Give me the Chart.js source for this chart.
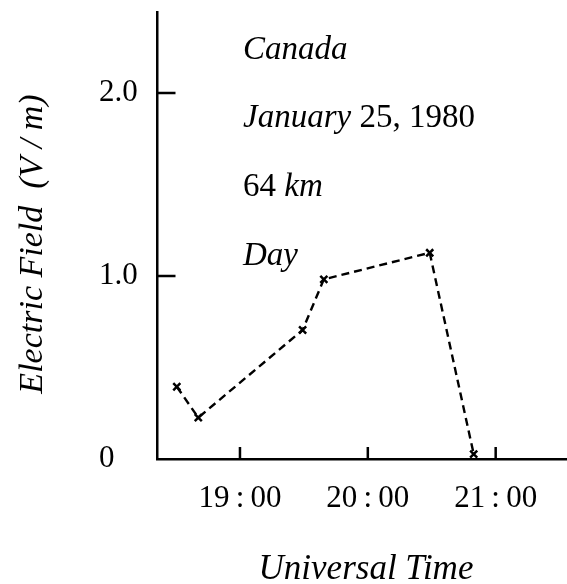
<!DOCTYPE html>
<html>
<head>
<meta charset="utf-8">
<script src="https://cdn.jsdelivr.net/npm/chart.js@4.4.1/dist/chart.umd.min.js"></script>
<style>
  body { margin: 0; background: #fff; }
</style>
</head>
<body>
<canvas id="chart" width="567" height="584"></canvas>
<script>
const times = [18.506, 18.674, 19.49, 19.656, 20.484, 20.828];
const field = [0.395, 0.226, 0.705, 0.982, 1.127, 0.027];
const xTicks = [19, 20, 21];
const xTickLabels = ['19\u2009:\u200900', '20\u2009:\u200900', '21\u2009:\u200900'];
const yTicks = [0, 1, 2];
const yTickLabels = ['0', '1.0', '2.0'];

const serif = "'Liberation Serif', 'Times New Roman', serif";

// inner tick marks + titles and the annotation text
const extras = {
  id: 'extras',
  afterDraw(chart) {
    const c = chart.ctx;
    const area = chart.chartArea;
    const xs = chart.scales.x, ys = chart.scales.y;
    c.save();
    c.strokeStyle = '#000';
    c.lineWidth = 2.5;
    c.beginPath();
    xTicks.forEach(v => {
      const px = xs.getPixelForValue(v);
      c.moveTo(px, area.bottom);
      c.lineTo(px, area.bottom - 12);
    });
    yTicks.slice(1).forEach(v => {
      const py = ys.getPixelForValue(v);
      c.moveTo(area.left, py);
      c.lineTo(area.left + 18, py);
    });
    c.stroke();

    c.fillStyle = '#000';
    c.textBaseline = 'alphabetic';

    // y title
    c.save();
    c.translate(42, 244);
    c.rotate(-Math.PI / 2);
    c.textAlign = 'center';
    c.font = 'italic 34px ' + serif;
    c.fillText('Electric Field\u2002(V / m)', 0, 0);
    c.restore();

    // x title
    c.textAlign = 'center';
    c.font = 'italic 35px ' + serif;
    c.fillText('Universal Time', 366, 579);

    // annotations
    c.textAlign = 'left';
    const x0 = 243;
    c.font = 'italic 33px ' + serif;
    c.fillText('Canada', x0, 59);
    c.fillText('January', x0, 127);
    let w = c.measureText('January ').width;
    c.font = '33px ' + serif;
    c.fillText('25, 1980', x0 + w, 127);
    c.fillText('64 ', x0, 196);
    w = c.measureText('64 ').width;
    c.font = 'italic 33px ' + serif;
    c.fillText('km', x0 + w, 196);
    c.fillText('Day', x0, 265);
    c.restore();
  }
};

new Chart(document.getElementById('chart'), {
  type: 'line',
  data: {
    datasets: [{
      data: times.map((t, i) => ({ x: t, y: field[i] })),
      borderColor: '#000',
      borderWidth: 2.4,
      borderDash: [8, 5],
      tension: 0,
      pointStyle: 'crossRot',
      pointRadius: 5,
      pointBorderWidth: 2.5,
      pointBorderColor: '#000'
    }]
  },
  options: {
    responsive: false,
    animation: false,
    devicePixelRatio: 1,
    layout: { autoPadding: false, padding: { left: 99, top: 12, right: 1, bottom: 0 } },
    plugins: {
      legend: { display: false },
      tooltip: { enabled: false }
    },
    scales: {
      x: {
        type: 'linear',
        min: 18.355,
        max: 21.55,
        afterBuildTicks: s => { s.ticks = xTicks.map(v => ({ value: v })); },
        afterFit: s => { s.height = 125; s.paddingLeft = 0; s.paddingRight = 0; },
        ticks: {
          padding: 21,
          color: '#000',
          font: { size: 31, family: serif },
          callback: v => xTickLabels[xTicks.indexOf(v)]
        },
        grid: { drawOnChartArea: false, drawTicks: false },
        border: { color: '#000', width: 2.5 }
      },
      y: {
        min: 0,
        max: 2.443,
        afterBuildTicks: s => { s.ticks = yTicks.map(v => ({ value: v })); },
        afterFit: s => { s.width = 58.5; s.paddingTop = 0; s.paddingBottom = 0; },
        ticks: {
          crossAlign: 'far',
          color: '#000',
          font: { size: 31, family: serif },
          callback: v => yTickLabels[yTicks.indexOf(v)]
        },
        grid: { drawOnChartArea: false, drawTicks: false },
        border: { color: '#000', width: 2.5 }
      }
    }
  },
  plugins: [extras]
});
</script>
</body>
</html>
